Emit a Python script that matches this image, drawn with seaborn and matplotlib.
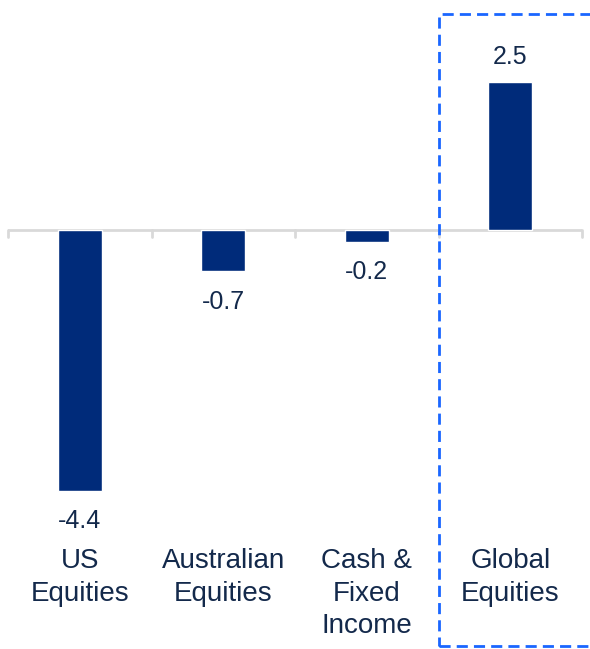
import matplotlib
matplotlib.use("Agg")
import matplotlib.pyplot as plt
import matplotlib.patches as patches
import seaborn as sns
import pandas as pd

# data
categories = ["US\nEquities", "Australian\nEquities", "Cash &\nFixed\nIncome", "Global\nEquities"]
values = [-4.4, -0.7, -0.2, 2.5]
value_labels = ["-4.4", "-0.7", "-0.2", "2.5"]

df = pd.DataFrame({"cat": categories, "val": values})

sns.set_style("white")
plt.rcParams["font.family"] = ["Liberation Sans", "DejaVu Sans"]

navy = "#002B7A"
text_col = "#13294B"

fig = plt.figure(figsize=(5.9, 6.49), dpi=100)
ax = fig.add_axes([8 / 590, 0, 574 / 590, 1])

sns.barplot(data=df, x="cat", y="val", color=navy, width=0.31, saturation=1, ax=ax)

ax.set_xlim(-0.5, len(categories) - 0.5)
ax.set_ylim(-7.066, 3.878)
for s in ax.spines.values():
    s.set_visible(False)
ax.set_xticks([])
ax.set_yticks([])
ax.set_xlabel("")
ax.set_ylabel("")

# zero line with separators
ax.axhline(0, color="#D9D9D9", lw=2, zorder=0)
for b in [i - 0.5 for i in range(len(categories) + 1)]:
    ax.plot([b, b], [0, -0.12], color="#D9D9D9", lw=2, zorder=0, clip_on=False)

# value labels
for i, (v, lab) in enumerate(zip(values, value_labels)):
    if v < 0:
        ax.text(i, v - 0.31, lab, ha="center", va="top", fontsize=18, color=text_col)
    else:
        ax.text(i, v + 0.3, lab, ha="center", va="baseline", fontsize=18, color=text_col)

# category labels
for i, c in enumerate(categories):
    ax.text(i, -5.37, c, ha="center", va="top", fontsize=20, color=text_col,
            linespacing=1.32)

# dashed highlight box (right edge runs off the image)
rect = patches.Rectangle((439 / 590, 3 / 649), 160 / 590, 632 / 649,
                         transform=fig.transFigure, fill=False,
                         edgecolor="#1A66FF", lw=2, linestyle=(0, (4, 2.2)),
                         clip_on=False)
fig.patches.append(rect)

fig.savefig("out.png", dpi=100)
